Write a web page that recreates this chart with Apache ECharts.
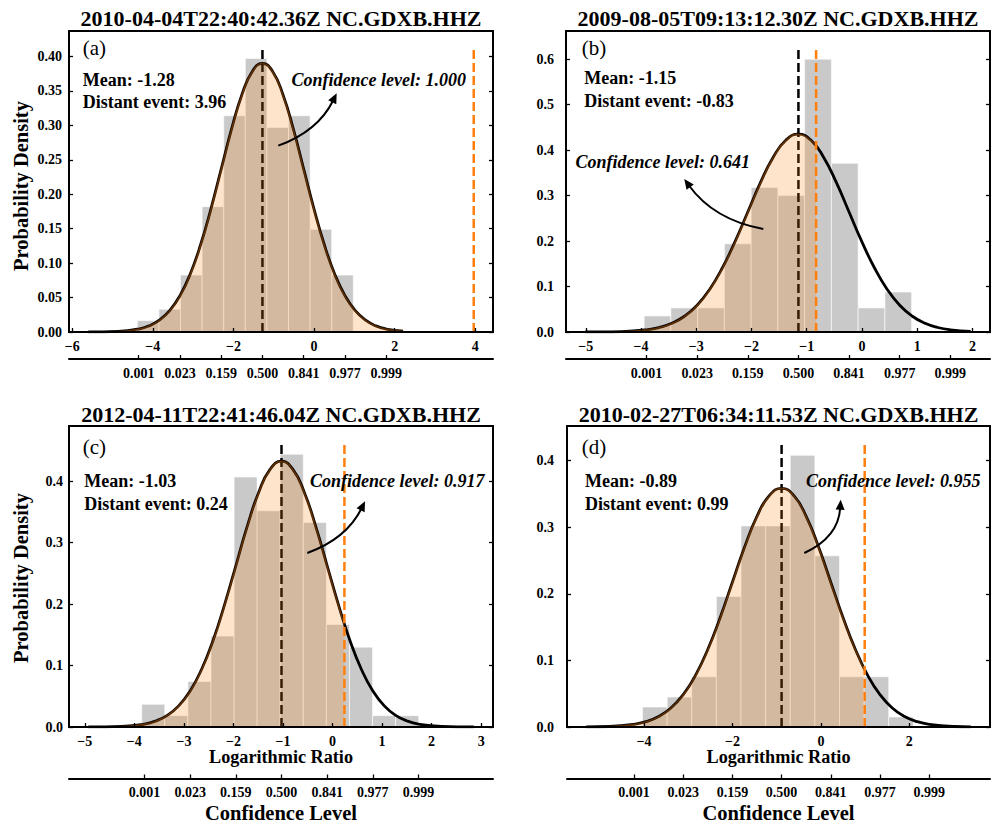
<!DOCTYPE html>
<html>
<head>
<meta charset="utf-8">
<script src="https://cdn.jsdelivr.net/npm/echarts@6/dist/echarts.min.js"></script>
<style>
html,body{margin:0;padding:0;background:#fff;}
#chart{width:994px;height:825px;}
</style>
</head>
<body>
<div id="chart"></div>
<script>
// ---------------- DATA ----------------
const panelTags = ['(a)', '(b)', '(c)', '(d)'];
const panelTitles = [
  '2010-04-04T22:40:42.36Z NC.GDXB.HHZ',
  '2009-08-05T09:13:12.30Z NC.GDXB.HHZ',
  '2012-04-11T22:41:46.04Z NC.GDXB.HHZ',
  '2010-02-27T06:34:11.53Z NC.GDXB.HHZ'
];
const meanValues = [-1.28, -1.15, -1.03, -0.89];
const distantValues = [3.96, -0.83, 0.24, 0.99];
const confidenceLevels = ['1.000', '0.641', '0.917', '0.955'];

// tick labels
const xTickValues = [
  [-6, -4, -2, 0, 2, 4],
  [-5, -4, -3, -2, -1, 0, 1, 2],
  [-5, -4, -3, -2, -1, 0, 1, 2, 3],
  [-4, -2, 0, 2]
];
const yTickValues = [
  [0, 0.05, 0.10, 0.15, 0.20, 0.25, 0.30, 0.35, 0.40],
  [0, 0.1, 0.2, 0.3, 0.4, 0.5, 0.6],
  [0, 0.1, 0.2, 0.3, 0.4],
  [0, 0.1, 0.2, 0.3, 0.4]
];
const yTickDecimals = [2, 1, 1, 1];
const confTickLabels = ['0.001', '0.023', '0.159', '0.500', '0.841', '0.977', '0.999'];
const aConfTicks = [-4.349, -3.326, -2.303, -1.28, -0.257, 0.766, 1.789];
const bConfTicks = [-3.901, -2.984, -2.067, -1.15, -0.233, 0.684, 1.601];
const cConfTicks = [-3.796, -2.874, -1.952, -1.03, -0.108, 0.814, 1.736];
const dConfTicks = [-4.229, -3.116, -2.003, -0.89, 0.223, 1.336, 2.449];

// histograms (bin edges and densities)
const aBinEdges = [-4.383, -3.847, -3.312, -2.776, -2.240, -1.705, -1.169, -0.633, -0.098, 0.438, 0.973];
const aBinHeights = [0.0165, 0.033, 0.0826, 0.182, 0.314, 0.397, 0.297, 0.314, 0.149, 0.0826];
const bBinEdges = [-3.944, -3.460, -2.975, -2.491, -2.006, -1.522, -1.038, -0.553, -0.069, 0.416, 0.900];
const bBinHeights = [0.0353, 0.053, 0.053, 0.194, 0.318, 0.300, 0.600, 0.371, 0.053, 0.088];
const cBinEdges = [-3.851, -3.385, -2.919, -2.453, -1.987, -1.522, -1.056, -0.590, -0.124, 0.342, 0.808, 1.274, 1.740];
const cBinHeights = [0.037, 0.0185, 0.074, 0.148, 0.407, 0.352, 0.444, 0.333, 0.167, 0.130, 0.0185, 0.0185];
const dBinEdges = [-4.036, -3.479, -2.922, -2.365, -1.808, -1.251, -0.694, -0.137, 0.420, 0.977, 1.534, 2.091];
const dBinHeights = [0.030, 0.045, 0.0755, 0.196, 0.302, 0.302, 0.408, 0.257, 0.0755, 0.0755, 0.015];

// fitted density curves
const aCurveX = [-5.600, -5.372, -4.861, -4.349, -4.093, -3.838, -3.582, -3.326, -3.070, -2.815, -2.559, -2.303, -2.047, -1.792, -1.536, -1.280, -1.024, -0.769, -0.513, -0.257, -0.001, 0.255, 0.510, 0.766, 1.022, 1.278, 1.533, 1.789, 2.208];
const aCurveY = [0.00005, 0.00013, 0.00085, 0.00433, 0.00889, 0.01714, 0.03103, 0.05278, 0.08434, 0.12661, 0.17854, 0.23653, 0.29437, 0.34415, 0.37798, 0.38997, 0.37798, 0.34415, 0.29437, 0.23653, 0.17854, 0.12661, 0.08434, 0.05278, 0.03103, 0.01714, 0.00889, 0.00433, 0.00116];
const bCurveX = [-5.010, -4.818, -4.360, -3.901, -3.672, -3.443, -3.213, -2.984, -2.755, -2.526, -2.296, -2.067, -1.838, -1.609, -1.379, -1.150, -0.921, -0.692, -0.462, -0.233, -0.004, 0.226, 0.455, 0.684, 0.913, 1.143, 1.372, 1.601, 1.968];
const bCurveY = [0.00006, 0.00015, 0.00095, 0.00483, 0.00991, 0.01912, 0.03461, 0.05888, 0.09409, 0.14124, 0.19918, 0.26387, 0.32840, 0.38394, 0.42167, 0.43505, 0.42167, 0.38394, 0.32840, 0.26387, 0.19918, 0.14124, 0.09409, 0.05888, 0.03461, 0.01912, 0.00991, 0.00483, 0.00134];
const cCurveX = [-4.930, -4.718, -4.257, -3.796, -3.566, -3.335, -3.105, -2.874, -2.644, -2.413, -2.183, -1.952, -1.722, -1.491, -1.261, -1.030, -0.800, -0.569, -0.339, -0.108, 0.123, 0.353, 0.584, 0.814, 1.045, 1.275, 1.506, 1.736, 2.197, 2.658, 2.852];
const cCurveY = [0.00005, 0.000145, 0.00094, 0.00480, 0.00986, 0.01901, 0.03443, 0.05856, 0.09358, 0.14048, 0.19810, 0.26244, 0.32661, 0.38185, 0.41938, 0.43269, 0.41938, 0.38185, 0.32661, 0.26244, 0.19810, 0.14048, 0.09358, 0.05856, 0.03443, 0.01901, 0.00986, 0.00480, 0.00094, 0.000145, 0.00006];
const dCurveX = [-5.310, -4.786, -4.229, -3.951, -3.673, -3.394, -3.116, -2.838, -2.560, -2.281, -2.003, -1.725, -1.447, -1.168, -0.890, -0.612, -0.334, -0.055, 0.223, 0.501, 0.780, 1.058, 1.336, 1.614, 1.893, 2.171, 2.449, 3.006, 3.395];
const dCurveY = [0.000135, 0.00078, 0.00398, 0.00817, 0.01575, 0.02852, 0.04851, 0.07752, 0.11637, 0.16411, 0.21740, 0.27056, 0.31633, 0.34741, 0.35843, 0.34741, 0.31633, 0.27056, 0.21740, 0.16411, 0.11637, 0.07752, 0.04851, 0.02852, 0.01575, 0.00817, 0.00398, 0.00078, 0.00022];
// density of the curve where the shaded area stops (at the distant event)
const fillEndDensity = [null, 0.4093, 0.1677, 0.0861];

// annotation arrows (data coordinates: tail inside distribution -> head near label)
const arrowTails = [[-0.887, 0.2705], [-1.786, 0.2265], [-0.509, 0.2833], [-0.376, 0.2613]];
const arrowHeads = [[0.561, 0.3466], [-3.217, 0.3365], [0.656, 0.3674], [0.447, 0.3413]];

// ---------------- LAYOUT / STYLE ----------------
const binEdges = [aBinEdges, bBinEdges, cBinEdges, dBinEdges];
const binHeights = [aBinHeights, bBinHeights, cBinHeights, dBinHeights];
const curveXs = [aCurveX, bCurveX, cCurveX, dCurveX];
const curveYs = [aCurveY, bCurveY, cCurveY, dCurveY];
const confTicks = [aConfTicks, bConfTicks, cConfTicks, dConfTicks];

const gridRects = [
  {left: 69, top: 31, width: 424, height: 301},
  {left: 566, top: 31, width: 424, height: 301},
  {left: 69, top: 426, width: 424, height: 301},
  {left: 567, top: 426, width: 423, height: 301}
];
const xRanges = [[-6.078, 4.438], [-5.359, 2.319], [-5.319, 3.239], [-5.745, 3.825]];
const yMaxes = [0.437, 0.662, 0.490, 0.452];
const yLabelMargins = [7, 12, 6, 13];
const confAxisOffsets = [27, 27, 51.5, 51.5];
const arrowBend = [0.2, -0.2, 0.2, 0.3];

const FONT = '"Liberation Serif", "Times New Roman", serif';
const GREY = '#c9c9c9';
const ORANGE = '#ff7f0e';
const ORANGE_A = 'rgba(255,127,14,0.3)';

function minusFmt(v) {
  return v < 0 ? '\u2212' + Math.abs(v) : String(v);
}

const chart = echarts.init(document.getElementById('chart'), null, {renderer: 'svg', width: 994, height: 825});

const grid = [], xAxis = [], yAxis = [], series = [];
const curveSeriesIndex = [];

for (let i = 0; i < 4; i++) {
  const r = gridRects[i];
  grid.push({
    left: r.left, top: r.top, width: r.width, height: r.height,
    show: true, borderColor: '#000', borderWidth: 2, backgroundColor: 'rgba(0,0,0,0)',
    containLabel: false, outerBoundsMode: 'none'
  });
  const tickLabelStyle = {color: '#000', fontFamily: FONT, fontWeight: 'bold', fontSize: 14};
  // primary x axis
  xAxis.push({
    gridIndex: i, type: 'value', min: xRanges[i][0], max: xRanges[i][1], position: 'bottom', z: 10,
    axisLine: {show: true, onZero: false, lineStyle: {color: '#000', width: 2}},
    axisTick: {show: true, inside: true, length: 4, lineStyle: {color: '#000', width: 1.3}, customValues: xTickValues[i]},
    axisLabel: Object.assign({show: true, margin: 7, customValues: xTickValues[i], formatter: minusFmt}, tickLabelStyle),
    splitLine: {show: false}
  });
  // secondary (confidence level) axis
  const ct = confTicks[i];
  xAxis.push({
    gridIndex: i, type: 'value', min: xRanges[i][0], max: xRanges[i][1], position: 'bottom',
    offset: confAxisOffsets[i], z: 10,
    axisLine: {show: true, onZero: false, lineStyle: {color: '#000', width: 2}},
    axisTick: {show: true, inside: true, length: 4, lineStyle: {color: '#000', width: 1.3}, customValues: ct},
    axisLabel: Object.assign({
      show: true, margin: 7, customValues: ct,
      formatter: function (v) {
        let k = 0, best = Infinity;
        ct.forEach(function (t, j) { const d = Math.abs(t - v); if (d < best) { best = d; k = j; } });
        return confTickLabels[k];
      }
    }, tickLabelStyle),
    splitLine: {show: false}
  });
  const dec = yTickDecimals[i];
  yAxis.push({
    gridIndex: i, type: 'value', min: 0, max: yMaxes[i], position: 'left',
    axisLine: {show: false, onZero: false},
    axisTick: {show: true, inside: true, length: 4, lineStyle: {color: '#000', width: 1.3}, customValues: yTickValues[i]},
    axisLabel: Object.assign({show: true, margin: yLabelMargins[i], customValues: yTickValues[i],
      formatter: function (v) { return v.toFixed(dec); }}, tickLabelStyle),
    splitLine: {show: false}
  });
  yAxis.push({
    gridIndex: i, type: 'value', min: 0, max: yMaxes[i], position: 'right',
    axisLine: {show: false, onZero: false},
    axisTick: {show: true, inside: true, length: 4, lineStyle: {color: '#000', width: 1.3}, customValues: yTickValues[i]},
    axisLabel: {show: false},
    splitLine: {show: false}
  });

  const xi = 2 * i, yi = 2 * i;
  // histogram
  const edges = binEdges[i], heights = binHeights[i];
  const barData = heights.map(function (h, j) { return [edges[j], edges[j + 1], h]; });
  series.push({
    type: 'custom', xAxisIndex: xi, yAxisIndex: yi, z: 2, silent: true,
    encode: {x: [0, 1], y: 2},
    data: barData,
    renderItem: function (params, api) {
      const p0 = api.coord([api.value(0), api.value(2)]);
      const p1 = api.coord([api.value(1), 0]);
      return {
        type: 'rect',
        shape: {x: p0[0], y: p0[1], width: p1[0] - p0[0], height: p1[1] - p0[1]},
        style: {fill: GREY, stroke: 'rgba(255,255,255,0.75)', lineWidth: 0.8}
      };
    }
  });
  const yTop = yMaxes[i] * 0.95;
  // mean line
  series.push({
    type: 'line', xAxisIndex: xi, yAxisIndex: yi, z: 3, silent: true, symbol: 'none',
    data: [[meanValues[i], 0], [meanValues[i], yTop]],
    lineStyle: {color: '#000', width: 2.5, type: [9, 4]}
  });
  // curve
  const curve = curveXs[i].map(function (x, j) { return [x, curveYs[i][j]]; });
  curveSeriesIndex.push(series.length);
  series.push({
    type: 'line', xAxisIndex: xi, yAxisIndex: yi, z: 4, silent: true, symbol: 'none',
    smooth: 0.5, data: curve,
    lineStyle: {color: '#000', width: 2.8}
  });
  // shaded area up to the distant event
  const dv = distantValues[i];
  let fill = curve.filter(function (p) { return p[0] <= dv; });
  if (fillEndDensity[i] !== null) fill = fill.concat([[dv, fillEndDensity[i]]]);
  series.push({
    type: 'line', xAxisIndex: xi, yAxisIndex: yi, z: 5, silent: true, symbol: 'none',
    smooth: 0.5, data: fill,
    lineStyle: {color: ORANGE_A, width: 1.4},
    areaStyle: {color: ORANGE_A, origin: 'start'}
  });
  // distant event line
  series.push({
    type: 'line', xAxisIndex: xi, yAxisIndex: yi, z: 6, silent: true, symbol: 'none',
    data: [[dv, 0], [dv, yTop]],
    lineStyle: {color: ORANGE, width: 2.5, type: [9, 4]}
  });
}

chart.setOption({
  animation: false,
  backgroundColor: '#fff',
  grid: grid, xAxis: xAxis, yAxis: yAxis, series: series
});

// ---------------- TEXT + ARROW ANNOTATIONS ----------------
const titleCenters = [[281, 18.5], [778, 18.5], [281, 414], [778.5, 414]];
const tagPos = [[82.7, 48.3], [581.7, 47.7], [82.7, 447.3], [581.7, 447.3]];
const statPos = [[82.7, 80, 102.3], [584.3, 78.3, 101], [84.3, 481.3, 503.7], [585, 481.3, 503.7]];
const confTextPos = [[378.7, 80], [662.7, 161.7], [397.2, 481.3], [893.3, 481.3]];

function txt(x, y, text, opts) {
  return {
    type: 'text', x: x, y: y, z: 100, rotation: opts.rotation || 0, silent: true,
    style: {
      text: text, x: 0, y: 0, fill: '#000',
      fontFamily: FONT, fontSize: opts.size, fontWeight: opts.weight || 'normal', fontStyle: opts.style || 'normal',
      textAlign: opts.align || 'left', textVerticalAlign: 'middle', align: opts.align || 'left', verticalAlign: 'middle'
    }
  };
}

const graphics = [];
for (let i = 0; i < 4; i++) {
  graphics.push(txt(titleCenters[i][0], titleCenters[i][1], panelTitles[i], {size: 22, weight: 'bold', align: 'center'}));
  graphics.push(txt(tagPos[i][0], tagPos[i][1], panelTags[i], {size: 21}));
  graphics.push(txt(statPos[i][0], statPos[i][1], 'Mean: ' + meanValues[i].toFixed(2), {size: 18, weight: 'bold'}));
  graphics.push(txt(statPos[i][0], statPos[i][2], 'Distant event: ' + distantValues[i].toFixed(2), {size: 18, weight: 'bold'}));
  graphics.push(txt(confTextPos[i][0], confTextPos[i][1], 'Confidence level: ' + confidenceLevels[i], {size: 18, weight: 'bold', style: 'italic', align: 'center'}));

  // curved arrow
  const s = chart.convertToPixel({seriesIndex: curveSeriesIndex[i]}, arrowTails[i]);
  const e = chart.convertToPixel({seriesIndex: curveSeriesIndex[i]}, arrowHeads[i]);
  const dx = e[0] - s[0], dy = e[1] - s[1];
  const k = arrowBend[i];
  const cx = (s[0] + e[0]) / 2 - k * dy, cy = (s[1] + e[1]) / 2 + k * dx;
  let tx = e[0] - cx, ty = e[1] - cy;
  const tl = Math.sqrt(tx * tx + ty * ty); tx /= tl; ty /= tl;
  const L = 10, Wd = 4.5;
  const bx = e[0] - tx * L, by = e[1] - ty * L;
  graphics.push({
    type: 'bezierCurve', z: 100, silent: true,
    shape: {x1: s[0], y1: s[1], x2: bx + tx * 2, y2: by + ty * 2, cpx1: cx, cpy1: cy},
    style: {stroke: '#000', lineWidth: 2, fill: null}
  });
  graphics.push({
    type: 'polygon', z: 101, silent: true,
    shape: {points: [[e[0], e[1]], [bx - ty * Wd, by + tx * Wd], [bx + ty * Wd, by - tx * Wd]]},
    style: {fill: '#000'}
  });
}
// axis titles
graphics.push(txt(21, 186, 'Probability Density', {size: 20.5, weight: 'bold', align: 'center', rotation: Math.PI / 2}));
graphics.push(txt(21, 578, 'Probability Density', {size: 20.5, weight: 'bold', align: 'center', rotation: Math.PI / 2}));
graphics.push(txt(281, 756.7, 'Logarithmic Ratio', {size: 18.2, weight: 'bold', align: 'center'}));
graphics.push(txt(778.5, 756.7, 'Logarithmic Ratio', {size: 18.2, weight: 'bold', align: 'center'}));
graphics.push(txt(281, 813.3, 'Confidence Level', {size: 20.5, weight: 'bold', align: 'center'}));
graphics.push(txt(778.5, 813.3, 'Confidence Level', {size: 20.5, weight: 'bold', align: 'center'}));

chart.setOption({graphic: graphics});
</script>
</body>
</html>
